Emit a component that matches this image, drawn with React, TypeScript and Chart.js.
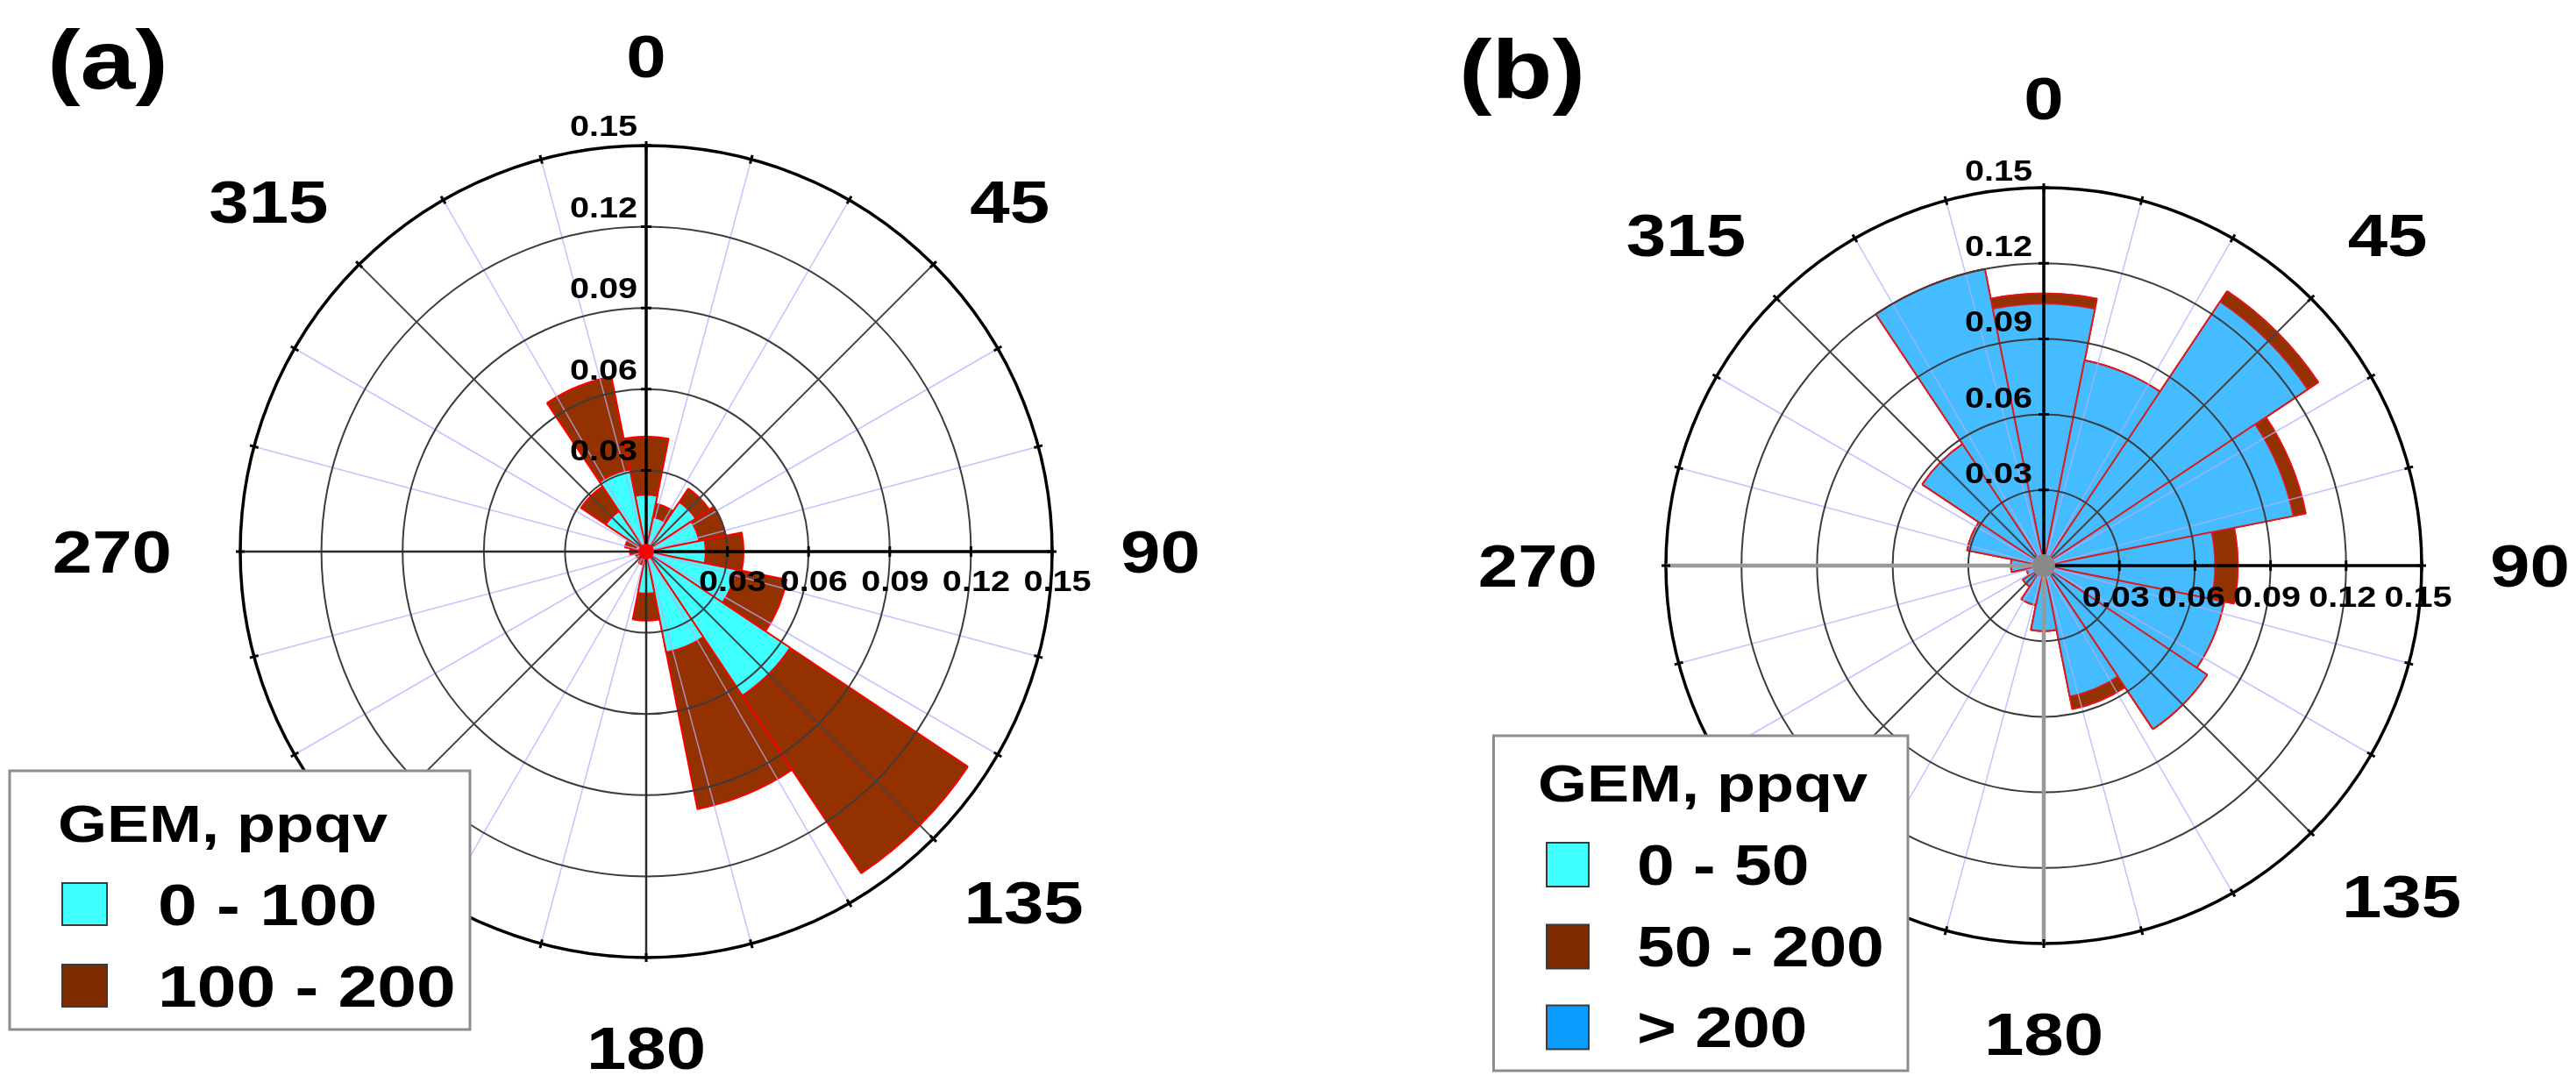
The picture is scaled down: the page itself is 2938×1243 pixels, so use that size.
import React, { useEffect, useRef } from "react";
import { Chart, registerables } from "chart.js";

Chart.register(...registerables);

// ---------- data ----------
const DIRECTIONS = ["N", "NNE", "NE", "ENE", "E", "ESE", "SE", "SSE", "S", "SSW", "SW", "WSW", "W", "WNW", "NW", "NNW"];
const RING_TICKS = [0.03, 0.06, 0.09, 0.12, 0.15];
const RING_LABELS = ["0.03", "0.06", "0.09", "0.12", "0.15"];
const COMPASS_ANGLES = [0, 45, 90, 135, 180, 270, 315];
const COMPASS_LABELS = ["0", "45", "90", "135", "180", "270", "315"];
const R_MAX = 0.15;

// Panel (a) : GEM, ppqv  (frequency per 22.5° sector)
const A_BIN_LABELS = ["0 - 100", "100 - 200"];
const A_GEM_0_100 = [0.021, 0.013, 0.022, 0.02, 0.022, 0.034, 0.064, 0.038, 0.0155, 0.002, 0.001, 0.002, 0.003, 0.004, 0.018, 0.031];
const A_GEM_100_200 = [0.0215, 0.005, 0.006, 0.01, 0.014, 0.019, 0.079, 0.059, 0.01, 0.003, 0.002, 0.002, 0.003, 0.004, 0.011, 0.035];

// Panel (b)
const B_BIN_LABELS = ["0 - 50", "50 - 200", "> 200"];
const B_GEM_0_50 = [0, 0, 0, 0, 0, 0, 0, 0, 0, 0, 0, 0, 0, 0, 0, 0];
const B_GEM_50_200 = [0.004, 0, 0.005, 0.005, 0.009, 0, 0, 0.005, 0, 0, 0, 0, 0, 0, 0, 0];
const B_GEM_GT_200 = [0.104, 0.083, 0.126, 0.101, 0.068, 0.073, 0.078, 0.053, 0.026, 0.016, 0.01, 0.007, 0.013, 0.031, 0.058, 0.12];

// ---------- styling ----------
const FONT = '"Liberation Sans", Arial, Helvetica, sans-serif';
const SX = 1.2;
const CYAN = "#40FFFF";
const BROWN = "#933100";
const BROWN_LEG = "#7E2B00";
const SKY = "#45BCFF";
const BLUE_LEG = "#0A9BFF";

const W = 1469;
const H = 1243;

function cumulative(series: number[][]): number[][] {
  const out: number[][] = [];
  let acc = series[0].map(() => 0);
  for (const s of series) {
    acc = acc.map((v, i) => v + s[i]);
    out.push(acc.slice());
  }
  return out;
}

function txt(ctx: CanvasRenderingContext2D, s: string, x: number, y: number, size: number, align: "left" | "center" | "right") {
  ctx.save();
  ctx.font = `bold ${size}px ${FONT}`;
  ctx.textBaseline = "alphabetic";
  ctx.textAlign = "left";
  const w = ctx.measureText(s).width * SX;
  const left = align === "left" ? x : align === "right" ? x - w : x - w / 2;
  ctx.translate(left, y);
  ctx.scale(SX, 1);
  ctx.fillStyle = "#000";
  ctx.fillText(s, 0, 0);
  ctx.restore();
  return w;
}

type LegendItem = { label: string; color: string };
type PanelCfg = {
  letter: string;
  letterX: number;
  letterBase: number;
  padding: { left: number; right: number; top: number; bottom: number };
  series: { data: number[]; color: string }[]; // inner -> outer
  border: string;
  backAxis: { color: string; width: number };
  centerDot: { color: string; r: number };
  nLabel: { dx: number; dy: number };
  eLabel: { dx: number; dy: number };
  legend: {
    box: { x: number; y: number; w: number; h: number };
    titleX: number;
    titleBase: number;
    titleSize: number;
    swX: number;
    swW: number;
    swH: number;
    textX: number;
    itemSize: number;
    centers: number[];
    items: LegendItem[];
  };
};

function pt(cx: number, cy: number, r: number, deg: number): [number, number] {
  const a = (deg * Math.PI) / 180;
  return [cx + r * Math.sin(a), cy - r * Math.cos(a)];
}

function makeOverlay(cfg: PanelCfg) {
  return {
    id: "roseOverlay",
    afterDraw(chart: any) {
      const ctx: CanvasRenderingContext2D = chart.ctx;
      const scale = chart.scales.r;
      const cx = scale.xCenter;
      const cy = scale.yCenter;
      const R = scale.drawingArea;
      ctx.save();
      ctx.lineCap = "butt";
      // light spokes every 15°
      for (let a = 0; a < 360; a += 15) {
        if (a % 45 === 0) continue;
        const [x, y] = pt(cx, cy, R, a);
        ctx.beginPath();
        ctx.moveTo(cx, cy);
        ctx.lineTo(x, y);
        ctx.strokeStyle = "rgba(175,175,255,0.75)";
        ctx.lineWidth = 1.5;
        ctx.stroke();
      }
      // rings
      RING_TICKS.forEach((v) => {
        const r = scale.getDistanceFromCenterForValue(v);
        ctx.beginPath();
        ctx.arc(cx, cy, r, 0, Math.PI * 2);
        ctx.strokeStyle = v === R_MAX ? "#000" : "#3c3c3c";
        ctx.lineWidth = v === R_MAX ? 3.5 : 2;
        ctx.stroke();
      });
      // diagonals
      [45, 135, 225, 315].forEach((a) => {
        const [x, y] = pt(cx, cy, R, a);
        ctx.beginPath();
        ctx.moveTo(cx, cy);
        ctx.lineTo(x, y);
        ctx.strokeStyle = "#444";
        ctx.lineWidth = 2;
        ctx.stroke();
      });
      // back axes (S, W)
      [180, 270].forEach((a) => {
        const [x, y] = pt(cx, cy, R, a);
        ctx.beginPath();
        ctx.moveTo(cx, cy);
        ctx.lineTo(x, y);
        ctx.strokeStyle = cfg.backAxis.color;
        ctx.lineWidth = cfg.backAxis.width;
        ctx.stroke();
      });
      // front axes (N, E)
      [0, 90].forEach((a) => {
        const [x, y] = pt(cx, cy, R, a);
        ctx.beginPath();
        ctx.moveTo(cx, cy);
        ctx.lineTo(x, y);
        ctx.strokeStyle = "#000";
        ctx.lineWidth = 3.5;
        ctx.stroke();
      });
      // axis ticks
      ctx.strokeStyle = "#000";
      ctx.lineWidth = 3;
      RING_TICKS.forEach((v) => {
        const r = scale.getDistanceFromCenterForValue(v);
        ctx.beginPath();
        ctx.moveTo(cx - 6, cy - r);
        ctx.lineTo(cx + 6, cy - r);
        ctx.moveTo(cx + r, cy - 6);
        ctx.lineTo(cx + r, cy + 6);
        ctx.stroke();
      });
      // outer ticks every 15°
      for (let a = 0; a < 360; a += 15) {
        const [x1, y1] = pt(cx, cy, R - 5, a);
        const [x2, y2] = pt(cx, cy, R + 5, a);
        ctx.beginPath();
        ctx.moveTo(x1, y1);
        ctx.lineTo(x2, y2);
        ctx.stroke();
      }
      // center dot
      ctx.beginPath();
      ctx.arc(cx, cy, cfg.centerDot.r, 0, Math.PI * 2);
      ctx.fillStyle = cfg.centerDot.color;
      ctx.fill();

      // ring labels on N axis and E axis
      RING_TICKS.forEach((v, i) => {
        const r = scale.getDistanceFromCenterForValue(v);
        txt(ctx, RING_LABELS[i], cx + cfg.nLabel.dx, cy - r + cfg.nLabel.dy, 33, "right");
        txt(ctx, RING_LABELS[i], cx + r + cfg.eLabel.dx, cy + cfg.eLabel.dy, 33, "center");
      });

      // compass labels
      const size = 68;
      const cap = 0.716 * size;
      COMPASS_ANGLES.forEach((a, i) => {
        ctx.save();
        ctx.font = `bold ${size}px ${FONT}`;
        const w = ctx.measureText(COMPASS_LABELS[i]).width * SX;
        ctx.restore();
        const rad = (a * Math.PI) / 180;
        const ux = Math.sin(rad);
        const uy = -Math.cos(rad);
        const x = cx + ux * (R + 78) + (ux * w) / 2;
        const y = cy + uy * (R + 78) + (uy * cap) / 2;
        txt(ctx, COMPASS_LABELS[i], x, y + cap / 2, size, "center");
      });

      // panel letter
      txt(ctx, cfg.letter, cfg.letterX, cfg.letterBase, 94, "left");

      // legend
      const L = cfg.legend;
      ctx.fillStyle = "#fff";
      ctx.fillRect(L.box.x, L.box.y, L.box.w, L.box.h);
      ctx.strokeStyle = "#8c8c8c";
      ctx.lineWidth = 3;
      ctx.strokeRect(L.box.x, L.box.y, L.box.w, L.box.h);
      txt(ctx, "GEM, ppqv", L.titleX, L.titleBase, L.titleSize, "left");
      L.items.forEach((it, i) => {
        const c = L.centers[i];
        ctx.fillStyle = it.color;
        ctx.fillRect(L.swX, c - L.swH / 2, L.swW, L.swH);
        ctx.strokeStyle = "#3a3a3a";
        ctx.lineWidth = 2;
        ctx.strokeRect(L.swX, c - L.swH / 2, L.swW, L.swH);
        txt(ctx, it.label, L.textX, c + (0.716 * L.itemSize) / 2, L.itemSize, "left");
      });
      ctx.restore();
    },
  };
}

const PANEL_A: PanelCfg = {
  letter: "(a)",
  letterX: 54,
  letterBase: 101,
  padding: { left: 274, right: 269, top: 166, bottom: 151 },
  series: [
    { data: A_GEM_0_100, color: CYAN },
    { data: A_GEM_100_200, color: BROWN },
  ],
  border: "#FF0000",
  backAxis: { color: "#2a2a2a", width: 2.5 },
  centerDot: { color: "#FF0000", r: 9 },
  nLabel: { dx: -10, dy: -11 },
  eLabel: { dx: 6, dy: 45 },
  legend: {
    box: { x: 11, y: 879, w: 525, h: 295 },
    titleX: 66,
    titleBase: 960,
    titleSize: 60,
    swX: 71,
    swW: 51,
    swH: 48,
    textX: 180,
    itemSize: 67,
    centers: [1031, 1124],
    items: [
      { label: A_BIN_LABELS[0], color: CYAN },
      { label: A_BIN_LABELS[1], color: BROWN_LEG },
    ],
  },
};

const PANEL_B: PanelCfg = {
  letter: "(b)",
  letterX: 1664 - W,
  letterBase: 112,
  padding: { left: 431, right: 176, top: 214, bottom: 167 },
  series: [
    { data: B_GEM_GT_200, color: SKY },
    { data: B_GEM_50_200, color: BROWN },
    { data: B_GEM_0_50, color: CYAN },
  ],
  border: "rgba(225,20,20,0.9)",
  backAxis: { color: "#999999", width: 4.5 },
  centerDot: { color: "#8a8a8a", r: 13 },
  nLabel: { dx: -13, dy: -8 },
  eLabel: { dx: -4, dy: 47 },
  legend: {
    box: { x: 1703.5 - W, y: 839, w: 472.5, h: 382 },
    titleX: 1754 - W,
    titleBase: 914,
    titleSize: 60,
    swX: 1764 - W,
    swW: 48,
    swH: 50,
    textX: 1867 - W,
    itemSize: 64,
    centers: [986, 1079.5, 1171.5],
    items: [
      { label: B_BIN_LABELS[0], color: CYAN },
      { label: B_BIN_LABELS[1], color: BROWN_LEG },
      { label: B_BIN_LABELS[2], color: BLUE_LEG },
    ],
  },
};

function RosePanel({ cfg, left }: { cfg: PanelCfg; left: number }) {
  const ref = useRef<HTMLCanvasElement | null>(null);
  useEffect(() => {
    if (!ref.current) return;
    const cum = cumulative(cfg.series.map((s) => s.data));
    const datasets = cfg.series.map((s, i) => ({
      label: s.color,
      data: cum[i],
      backgroundColor: s.color,
      borderColor: cfg.border,
      borderWidth: 2,
    }));
    const chart = new Chart(ref.current, {
      type: "polarArea",
      data: { labels: DIRECTIONS, datasets },
      options: {
        responsive: false,
        animation: false,
        layout: { padding: cfg.padding },
        plugins: { legend: { display: false }, tooltip: { enabled: false } },
        scales: {
          r: {
            min: 0,
            max: R_MAX,
            startAngle: -11.25,
            ticks: { display: false, stepSize: 0.03 },
            grid: { display: false },
            angleLines: { display: false },
            pointLabels: { display: false },
          },
        },
      } as any,
      plugins: [makeOverlay(cfg)],
    });
    return () => chart.destroy();
  }, [cfg]);
  return (
    <canvas
      ref={ref}
      width={W}
      height={H}
      style={{ position: "absolute", left, top: 0, width: W, height: H }}
    />
  );
}

export default function App() {
  return (
    <div style={{ position: "absolute", left: 0, top: 0, width: 2938, height: 1243, background: "#fff", overflow: "hidden" }}>
      <RosePanel cfg={PANEL_A} left={0} />
      <RosePanel cfg={PANEL_B} left={W} />
    </div>
  );
}
